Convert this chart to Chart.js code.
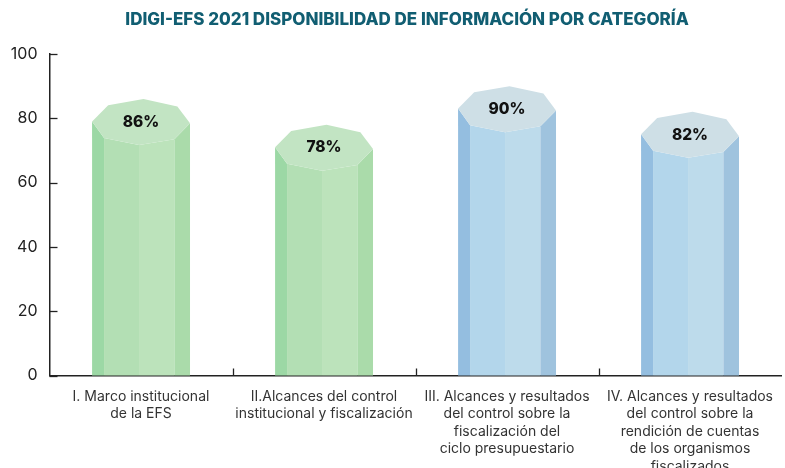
<!DOCTYPE html>
<html>
<head>
<meta charset="utf-8">
<script src="https://cdn.jsdelivr.net/npm/chart.js@4"></script>
<style>
  html, body { margin: 0; padding: 0; background: #fff; }
  #wrap { width: 785px; height: 468px; position: relative; }
</style>
</head>
<body>
<div id="wrap"><canvas id="chart"></canvas></div>
<script>
const chartTitle = 'IDIGI-EFS 2021 DISPONIBILIDAD DE INFORMACIÓN POR CATEGORÍA';
const categories = [
  ['I. Marco institucional', 'de la EFS'],
  ['II.Alcances del control', 'institucional y fiscalización'],
  ['III. Alcances y resultados', 'del control sobre la', 'fiscalización del', 'ciclo presupuestario'],
  ['IV. Alcances y resultados', 'del control sobre la', 'rendición de cuentas', 'de los organismos', 'fiscalizados']
];
const values = [86, 78, 90, 82];
const valueLabels = ['86%', '78%', '90%', '82%'];
const barGroup = ['green', 'green', 'blue', 'blue'];
const yTicks = [0, 20, 40, 60, 80, 100];

const palette = {
  green: { left: '#9cd8a5', mid1: '#b3dfb4', mid2: '#bce3bb', right: '#aadbaa', cap: '#c2e4c3' },
  blue:  { left: '#94bee0', mid1: '#b3d6eb', mid2: '#bddbeb', right: '#9fc3de', cap: '#cedfe6' }
};

// prism cap outline, measured for a 100px wide bar, y from the top of the cap
const capShape = {
  left: [-49.5, 22.4], tl: [-33.2, 6.2], top: [2.5, 0], tr: [36.8, 7.4],
  right: [49.6, 24.3], br: [33.8, 40.2], bottom: [-2.0, 46], bl: [-37.4, 39]
};

function poly(ctx, pts, color){
  ctx.beginPath();
  pts.forEach((p, i) => i ? ctx.lineTo(p[0], p[1]) : ctx.moveTo(p[0], p[1]));
  ctx.closePath();
  ctx.fillStyle = color;
  ctx.fill();
}

const prismPlugin = {
  id: 'prism',
  beforeDraw(chart){
    const ctx = chart.ctx;
    ctx.save();
    ctx.fillStyle = '#115e72';
    ctx.font = '800 17px Inter, "Open Sans", sans-serif';
    ctx.textAlign = 'center';
    ctx.textBaseline = 'middle';
    ctx.fillText(chartTitle, 407, 20);
    ctx.restore();
  },
  afterDatasetsDraw(chart){
    const ctx = chart.ctx;
    const meta = chart.getDatasetMeta(0);
    ctx.save();
    meta.data.forEach((bar, i) => {
      const p = bar.getProps(['x', 'y', 'base', 'width'], true);
      const k = p.width / 100;
      const pt = n => [p.x + capShape[n][0] * k, p.y + capShape[n][1]];
      const c = palette[barGroup[i]];
      const L = pt('left'), BL = pt('bl'), B = pt('bottom'), BR = pt('br'), R = pt('right');
      poly(ctx, [L, BL, [BL[0], p.base], [L[0], p.base]], c.left);
      poly(ctx, [BL, B, [B[0], p.base], [BL[0], p.base]], c.mid1);
      poly(ctx, [B, BR, [BR[0], p.base], [B[0], p.base]], c.mid2);
      poly(ctx, [BR, R, [R[0], p.base], [BR[0], p.base]], c.right);
      poly(ctx, ['left', 'tl', 'top', 'tr', 'right', 'br', 'bottom', 'bl'].map(pt), c.cap);
      ctx.fillStyle = '#111';
      ctx.font = '800 15.5px Inter, "Open Sans", sans-serif';
      ctx.textAlign = 'center';
      ctx.textBaseline = 'middle';
      ctx.fillText(valueLabels[i], p.x, p.y + 23);
    });
    // inner tick marks
    const xs = chart.scales.x, ys = chart.scales.y;
    ctx.strokeStyle = '#222';
    ctx.lineWidth = 1.3;
    yTicks.forEach(v => {
      const y = Math.round(ys.getPixelForValue(v)) + 0.5;
      ctx.beginPath(); ctx.moveTo(xs.left, y); ctx.lineTo(xs.left + 8, y); ctx.stroke();
    });
    for(let i = 0; i < categories.length - 1; i++){
      const x = Math.round((xs.getPixelForTick(i) + xs.getPixelForTick(i + 1)) / 2) + 0.5;
      ctx.beginPath(); ctx.moveTo(x, ys.bottom); ctx.lineTo(x, ys.bottom - 7); ctx.stroke();
    }
    ctx.restore();
  }
};

new Chart(document.getElementById('chart'), {
  type: 'bar',
  data: {
    labels: categories,
    datasets: [{ data: values, backgroundColor: 'rgba(0,0,0,0)', borderWidth: 0 }]
  },
  options: {
    responsive: true,
    maintainAspectRatio: false,
    animation: false,
    layout: { padding: { left: 0, right: -4, top: 54, bottom: 0 } },
    plugins: {
      legend: { display: false },
      tooltip: { enabled: false },
      title: { display: false }
    },
    datasets: { bar: { categoryPercentage: 0.54, barPercentage: 1 } },
    scales: {
      x: {
        grid: { display: false, drawTicks: false },
        border: { display: true, color: '#222', width: 1.5 },
        ticks: {
          color: '#333',
          font: { family: 'Inter, "Open Sans", sans-serif', size: 14, lineHeight: 1.26 },
          padding: 12,
          maxRotation: 0,
          autoSkip: false
        },
        afterFit(scale){ scale.height = 92.5; }
      },
      y: {
        min: 0, max: 100,
        grid: { display: false, drawTicks: false },
        border: { display: true, color: '#222', width: 1.5 },
        ticks: {
          stepSize: 20,
          color: '#222',
          font: { family: 'Inter, "Open Sans", sans-serif', size: 16 },
          padding: 12
        },
        afterFit(scale){ scale.width = 49.5; }
      }
    }
  },
  plugins: [prismPlugin]
});
</script>
</body>
</html>
